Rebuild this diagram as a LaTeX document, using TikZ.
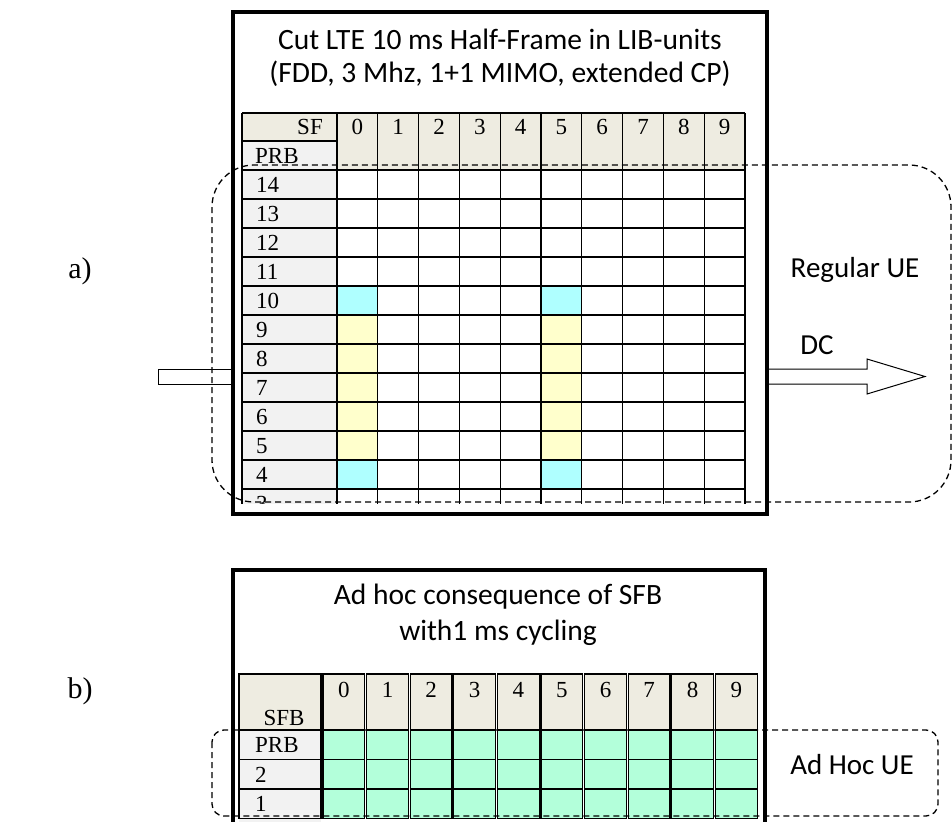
\documentclass[tikz,border=0pt]{standalone}
\usepackage{fontspec}
\setmainfont{Liberation Serif}
\newfontfamily\calibri{Carlito}
\usetikzlibrary{calc}
\definecolor{Head}{HTML}{EEECE1}
\definecolor{Side}{HTML}{F2F2F2}
\definecolor{Cyan}{HTML}{AFFFFF}
\definecolor{Pale}{HTML}{FFFFCC}
\definecolor{Mint}{HTML}{B3FFDA}

\begin{document}
\begin{tikzpicture}[x=1pt,y=-1pt,
        frame/.style={line width=3.5pt},
        grid/.style={line width=1.3pt},
        ue/.style={line width=1.3pt,dash pattern=on 6pt off 4pt},
        ttl/.style={font=\calibri\fontsize{29.5}{33}\selectfont,align=center},
        lbl/.style={font=\calibri\fontsize{29}{32}\selectfont},
        num/.style={font=\fontsize{23}{23}\selectfont,inner sep=0pt},
        side/.style={font=\fontsize{30}{30}\selectfont,inner sep=0pt},
        blk/.style={draw,fill=white,line width=1pt}]
        \useasboundingbox (0,0) rectangle (952,821);
        % a) regular half-frame
        \draw[blk] (158,369) rectangle (233,384);
        \draw[blk] (767,369) -- (867,369) -- (867,359) -- (925,376.5)
          -- (867,394) -- (867,384) -- (767,384) -- cycle;
        \begin{scope}
          \clip (236,100) rectangle (764,503);
          \fill[Head] (242,113) rectangle (745,170);
          \fill[Side] (242,141) rectangle (337,520);
          \foreach \c in {0,5} {
            \fill[Cyan] ({337+40.8*\c},286) rectangle ({337+40.8*(\c+1)},315);
            \fill[Pale] ({337+40.8*\c},315) rectangle ({337+40.8*(\c+1)},460);
            \fill[Cyan] ({337+40.8*\c},460) rectangle ({337+40.8*(\c+1)},489);
          }
          \draw[grid] (242,113) -- (745,113);
          \draw[grid] (242,141) -- (337,141);
          \foreach \k in {0,...,12}
            \draw[grid] (242,{170+29*\k}) -- (745,{170+29*\k});
          \draw[grid] (242,113) -- (242,520);
          \foreach \i in {0,...,10}
            \draw[grid] ({337+40.8*\i},113) -- ({337+40.8*\i},520);
          \node[num,anchor=east] (sf) at (323,127) {SF};
          \node[num,anchor=west] (prba) at (255,156) {PRB};
          \foreach \c in {0,...,9}
            \node[num] (ha\c) at ({357.4+40.8*\c},127) {\c};
          \foreach \r [count=\k from 0] in {14,13,12,11,10,9,8,7,6,5,4,3}
            \node[num,anchor=west] (pa\r) at (256,{185+29*\k}) {\r};
        \end{scope}
        \draw[frame] (233,12) rectangle (767,514);
        \node[ttl] (ta) at (500,58) {Cut LTE 10 ms Half-Frame in LIB-units\\(FDD, 3 Mhz, 1+1 MIMO, extended CP)};
        \draw[ue,rounded corners=42pt] (212,165) rectangle (951,502);
        \node[lbl] (reg) at (855,270) {Regular UE};
        \node[lbl] (dc) at (817,345) {DC};
        \node[side] (la) at (80,271) {a)};
        % b) ad hoc SFB
        \begin{scope}
          \clip (0,0) rectangle (952,821);
          \fill[Head] (239,674) rectangle (321,730);
          \fill[Side] (239,730) rectangle (321,830);
          \draw[grid] (239,674) rectangle (321,730);
          \foreach \k in {0,1,2}
            \draw[grid] (239,{730+29.5*\k}) rectangle (321,{759.5+29.5*\k});
          \foreach \c in {0,...,9} {
            \draw[grid,fill=Head] ({323+43.6*\c},674) rectangle ({364.8+43.6*\c},730);
            \foreach \k in {0,1,2}
              \draw[grid,fill=Mint] ({323+43.6*\c},{730+29.5*\k}) rectangle ({364.8+43.6*\c},{759.5+29.5*\k});
            \node[num] (hb\c) at ({343.9+43.6*\c},690) {\c};
          }
          \node[num] (sfb) at (284,718) {SFB};
          \node[num,anchor=west] (prbb) at (255,745) {PRB};
          \node[num,anchor=west] (pb2) at (255,775) {2};
          \node[num,anchor=west] (pb1) at (255,804) {1};
          \draw[frame] (233,840) -- (233,570) -- (765,570) -- (765,840);
        \end{scope}
        \node[ttl,font=\calibri\fontsize{29.5}{36}\selectfont] (tb) at (498,615) {Ad hoc consequence of SFB\\with1 ms cycling};
        \draw[ue,rounded corners=12pt] (212,730) rectangle (938,816);
        \node[lbl] (adhoc) at (852,765) {Ad Hoc UE};
        \node[side] (lb) at (80,691) {b)};
\end{tikzpicture}
\end{document}
